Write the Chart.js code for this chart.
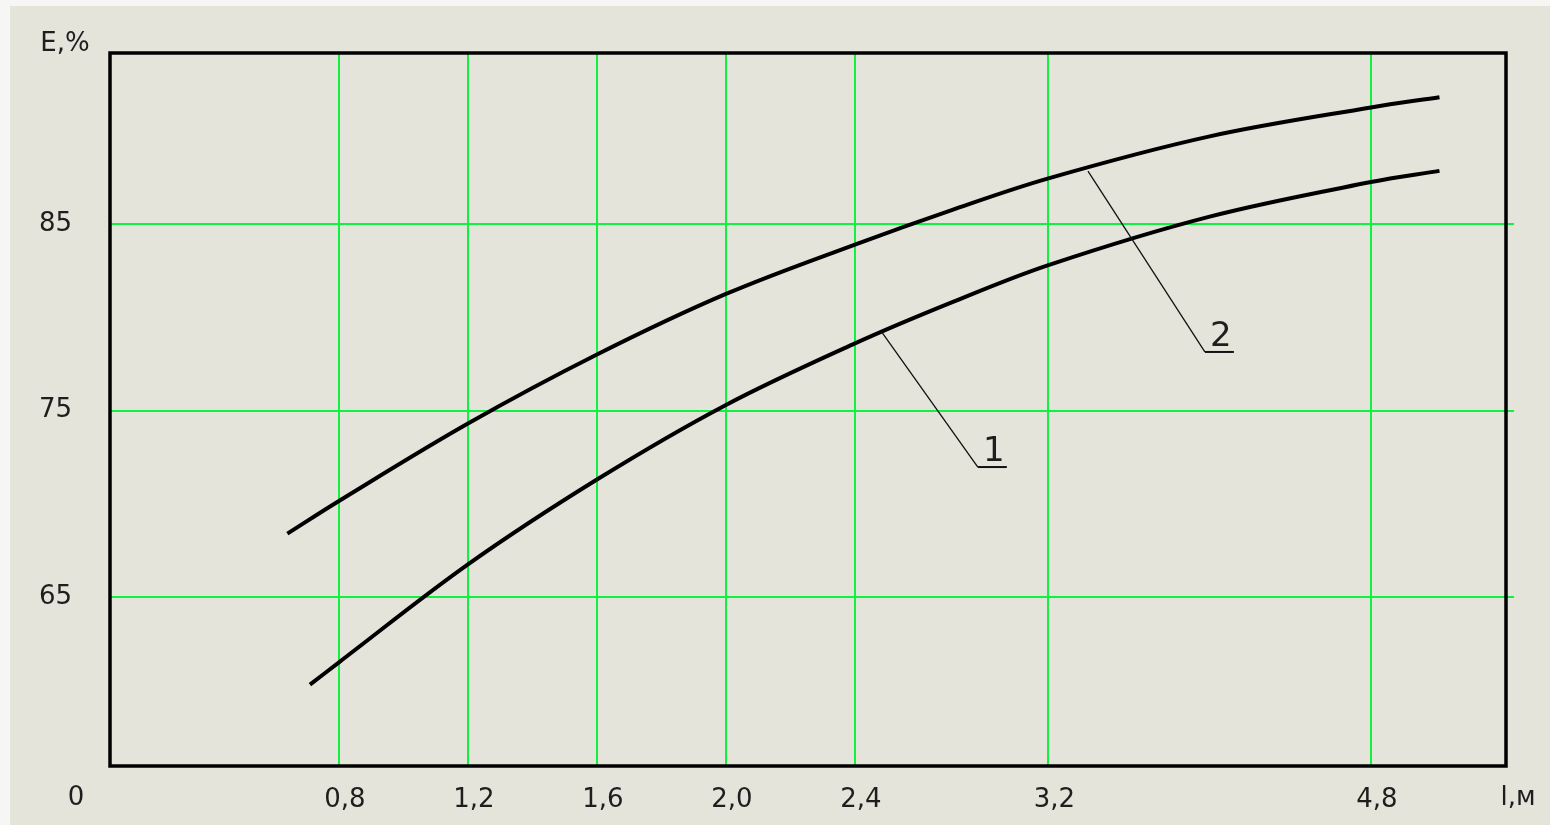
<!DOCTYPE html>
<html>
<head>
<meta charset="utf-8">
<script src="https://cdn.jsdelivr.net/npm/chart.js@4.4.1/dist/chart.umd.min.js"></script>
<style>
  html, body { margin: 0; padding: 0; width: 1550px; height: 825px; overflow: hidden; background: #f6f6f4; }
  #wrap { position: absolute; left: 10px; top: 6px; width: 1540px; height: 819px; background: #e5e4da; }
</style>
</head>
<body>
<div id="wrap"><canvas id="chart"></canvas></div>
<script>
// Curve 1: E, % against l, m
const lengths1 = [0.71, 0.8, 1.2, 1.6, 2.0, 2.4, 2.8, 3.2, 4.0, 4.8, 5.14];
const efficiency1 = [60.3, 61.5, 66.75, 71.3, 75.3, 78.6, 80.8, 82.8, 85.4, 87.25, 87.85];

// Curve 2: E, % against l, m
const lengths2 = [0.64, 0.8, 1.2, 1.6, 2.0, 2.4, 2.8, 3.2, 4.0, 4.8, 5.14];
const efficiency2 = [68.4, 70.15, 74.3, 78.0, 81.25, 83.9, 85.75, 87.45, 89.7, 91.25, 91.8];

// Axis ticks
const xTicks = [0.8, 1.2, 1.6, 2.0, 2.4, 3.2, 4.8];
const xTickLabels = ['0,8', '1,2', '1,6', '2,0', '2,4', '3,2', '4,8'];
const yTicks = [65, 75, 85];
const yTickLabels = ['65', '75', '85'];

// Curve captions with leader lines: [l, E] on the curve -> [l, E] at the caption
const captionNames = ['1', '2'];
const captionFrom = [[2.508, 79.26], [3.396, 87.84]];
const captionTo = [[2.908, 71.97], [3.976, 78.14]];

// The length axis is drawn in stretches of different scale:
// each knot value is placed at the given distance along the axis.
const knotValues = [0.8, 2.4, 3.2, 4.8];
const knotUnits = [0, 4, 5.5, 8];

class SketchLengthScale extends Chart.LinearScale {
  static id = 'sketchLength';
  static defaults = {};

  toUnit(v) {
    const n = knotValues.length;
    let i = 0;
    if (v >= knotValues[n - 1]) i = n - 2;
    else while (i < n - 2 && v > knotValues[i + 1]) i++;
    const k = (knotUnits[i + 1] - knotUnits[i]) / (knotValues[i + 1] - knotValues[i]);
    return knotUnits[i] + (v - knotValues[i]) * k;
  }
  fromUnit(u) {
    const n = knotUnits.length;
    let i = 0;
    if (u >= knotUnits[n - 1]) i = n - 2;
    else while (i < n - 2 && u > knotUnits[i + 1]) i++;
    const k = (knotValues[i + 1] - knotValues[i]) / (knotUnits[i + 1] - knotUnits[i]);
    return knotValues[i] + (u - knotUnits[i]) * k;
  }
  determineDataLimits() {
    super.determineDataLimits();
    this.min = this.toUnit(this.min);
    this.max = this.toUnit(this.max);
  }
  buildTicks() {
    this.start = this.min;
    this.end = this.max;
    return xTicks.map(v => ({ value: v }));
  }
  getPixelForValue(v) {
    return super.getPixelForValue(this.toUnit(v));
  }
  getValueForPixel(p) {
    return this.fromUnit(super.getValueForPixel(p));
  }
}
Chart.register(SketchLengthScale);

const GRID_GREEN = '#10f240';
const INK = '#1e1e1e';
const FONT = 'DejaVu Sans';

const noEdgePadding = s => {
  s.paddingTop = 0; s.paddingBottom = 0; s.paddingLeft = 0; s.paddingRight = 0;
};

const frameAndCaptions = {
  id: 'frameAndCaptions',
  beforeDatasetsDraw(chart) {
    const { ctx, chartArea: a } = chart;
    ctx.save();
    ctx.strokeStyle = '#000';
    ctx.lineWidth = 3.5;
    ctx.strokeRect(a.left, a.top, a.right - a.left, a.bottom - a.top);
    ctx.restore();
  },
  afterDatasetsDraw(chart) {
    const { ctx, chartArea: a, scales: { x, y } } = chart;
    ctx.save();
    ctx.fillStyle = INK;
    ctx.font = `26px "${FONT}"`;
    ctx.textBaseline = 'middle';
    ctx.textAlign = 'center';
    ctx.fillText('E,%', a.left - 45, a.top - 9);
    ctx.fillText('0', a.left - 34, a.bottom + 32);
    ctx.fillText('l,м', a.right + 12, a.bottom + 32);

    captionNames.forEach((name, i) => {
      const x0 = x.getPixelForValue(captionFrom[i][0]);
      const y0 = y.getPixelForValue(captionFrom[i][1]);
      const x1 = x.getPixelForValue(captionTo[i][0]);
      const y1 = y.getPixelForValue(captionTo[i][1]);
      ctx.strokeStyle = '#111';
      ctx.lineWidth = 1.3;
      ctx.beginPath();
      ctx.moveTo(x0, y0);
      ctx.lineTo(x1, y1);
      ctx.stroke();
      ctx.lineWidth = 2;
      ctx.beginPath();
      ctx.moveTo(x1, y1);
      ctx.lineTo(x1 + 29, y1);
      ctx.stroke();
      ctx.font = `34px "${FONT}"`;
      ctx.textAlign = 'center';
      ctx.textBaseline = 'alphabetic';
      ctx.fillText(name, x1 + 16, y1 - 6);
    });
    ctx.restore();
  }
};

const curveStyle = {
  borderColor: '#000',
  borderWidth: 4,
  pointRadius: 0,
  fill: false,
  tension: 0.35,
  borderCapStyle: 'butt'
};

new Chart(document.getElementById('chart'), {
  type: 'line',
  data: {
    datasets: [
      Object.assign({ label: '1', data: lengths1.map((l, i) => ({ x: l, y: efficiency1[i] })) }, curveStyle),
      Object.assign({ label: '2', data: lengths2.map((l, i) => ({ x: l, y: efficiency2[i] })) }, curveStyle)
    ]
  },
  options: {
    responsive: true,
    maintainAspectRatio: false,
    animation: false,
    layout: { padding: { top: 47, right: 0, bottom: 0, left: 0 } },
    plugins: { legend: { display: false }, tooltip: { enabled: false } },
    scales: {
      x: {
        type: 'sketchLength',
        min: 0.09,
        max: 5.47,
        grid: { color: GRID_GREEN, lineWidth: 2, drawTicks: false },
        border: { display: false },
        ticks: {
          autoSkip: false,
          maxRotation: 0,
          padding: 19,
          labelOffset: 6,
          color: INK,
          font: { family: FONT, size: 26 },
          callback: (v, i) => xTickLabels[i]
        },
        afterFit: s => { s.height = 59; noEdgePadding(s); }
      },
      y: {
        type: 'linear',
        position: 'left',
        min: 55.94,
        max: 94.17,
        afterBuildTicks: s => { s.ticks = yTicks.map(v => ({ value: v })); },
        grid: { color: GRID_GREEN, lineWidth: 2, drawTicks: false },
        border: { display: false },
        ticks: {
          padding: 38,
          color: INK,
          font: { family: FONT, size: 26 },
          callback: (v, i) => yTickLabels[i]
        },
        afterFit: s => { s.width = 100; noEdgePadding(s); }
      },
      yRight: {
        type: 'linear',
        position: 'right',
        min: 55.94,
        max: 94.17,
        afterBuildTicks: s => { s.ticks = yTicks.map(v => ({ value: v })); },
        grid: { color: GRID_GREEN, lineWidth: 2, drawOnChartArea: false, drawTicks: true, tickLength: 8 },
        border: { display: false },
        ticks: { display: false },
        afterFit: s => { s.width = 44; noEdgePadding(s); }
      }
    }
  },
  plugins: [frameAndCaptions]
});
</script>
</body>
</html>
